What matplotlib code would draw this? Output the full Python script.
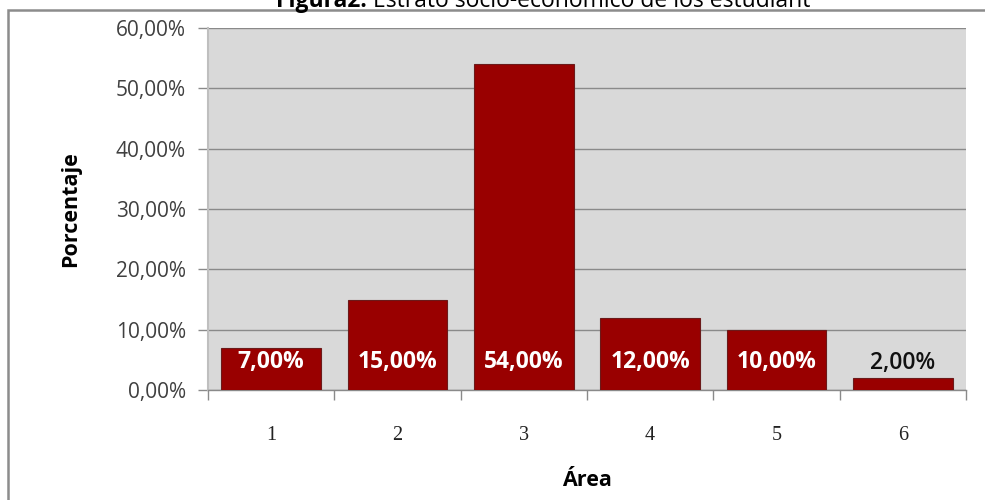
import matplotlib
matplotlib.use("Agg")
import matplotlib.pyplot as plt
from matplotlib.patches import Rectangle

categories = ["1", "2", "3", "4", "5", "6"]
values = [7.0, 15.0, 54.0, 12.0, 10.0, 2.0]
yticks = [0, 10, 20, 30, 40, 50, 60]
ytick_labels = ["0,00%", "10,00%", "20,00%", "30,00%", "40,00%", "50,00%", "60,00%"]
value_labels = ["7,00%", "15,00%", "54,00%", "12,00%", "10,00%", "2,00%"]
title_bold = "Figura2."
title_rest = " Estrato socio-económico de los estudiant"

W, H = 985, 500
fig = plt.figure(figsize=(W / 100, H / 100), dpi=100)
fig.patch.set_facecolor("white")

# outer frame
fig.add_artist(Rectangle((8 / W, -0.05), 1.2, 1 - 10 / H + 0.05, transform=fig.transFigure,
                         fill=False, edgecolor="#8c8c8c", linewidth=1.8))

ax = fig.add_axes([208 / W, 1 - 390 / H, (966 - 208) / W, (390 - 28) / H])
ax.set_facecolor("#d9d9d9")
x = list(range(len(categories)))
bars = ax.bar(x, values, width=0.79, color="#990000", edgecolor="#6b1a1a", linewidth=0.8, zorder=3)
ax.set_xlim(-0.5, len(categories) - 0.5)
ax.set_ylim(0, 60)
ax.set_yticks(yticks)
ax.set_yticklabels(ytick_labels, fontfamily="Open Sans", fontsize=15, color="#404040")
ax.yaxis.grid(True, color="#8a8a8a", linewidth=1.0, zorder=1)
ax.set_axisbelow(True)
ax.tick_params(axis="y", length=7, width=1, color="#8a8a8a", pad=9, direction="out")

ax.set_xticks(x)
ax.set_xticklabels(categories, fontfamily="Liberation Serif", fontsize=14.5, color="#222222")
ax.tick_params(axis="x", length=0, pad=26)
# category boundary ticks
ax.set_xticks([i - 0.5 for i in range(len(categories) + 1)], minor=True)
ax.tick_params(axis="x", which="minor", length=7, width=1, color="#8a8a8a", direction="out")

for s in ["top", "right"]:
    ax.spines[s].set_visible(False)
ax.spines["left"].set_color("#bfbfbf")
ax.spines["left"].set_linewidth(1.5)
ax.spines["bottom"].set_color("#8a8a8a")
ax.spines["bottom"].set_linewidth(1.0)

for xi, v, lab in zip(x, values, value_labels):
    if v >= 5:
        ax.text(xi, 4.6, lab, ha="center", va="center", color="white", fontweight="bold",
                fontfamily="Open Sans", fontsize=16.5, zorder=4)
    else:
        ax.text(xi, v + 0.5, lab, ha="center", va="bottom", color="#111111", fontweight="semibold",
                fontfamily="Open Sans", fontsize=16.5, zorder=4)

ax.set_ylabel("Porcentaje", fontfamily="Open Sans", fontweight="bold", fontsize=15.5)
ax.yaxis.set_label_coords(-(208 - 81) / (966 - 208), 0.5)
ax.set_xlabel("Área", fontfamily="Open Sans", fontweight="bold", fontsize=15.5)
ax.xaxis.set_label_coords((587 - 208) / (966 - 208), -(480 - 390) / (390 - 28))
ax.xaxis.label.set_va("center")

# clipped title at top (as in the reference)
fig.canvas.draw()
r = fig.canvas.get_renderer()
t1 = fig.text(0, 1 - 7 / H, title_bold, fontfamily="Open Sans", fontweight="bold", fontsize=16.5,
              ha="left", va="baseline")
t2 = fig.text(0, 1 - 7 / H, title_rest, fontfamily="Open Sans", fontsize=16.5,
              ha="left", va="baseline")
w1 = t1.get_window_extent(r).width
w2 = t2.get_window_extent(r).width
start = 543 - (w1 + w2) / 2
t1.set_x(start / W)
t2.set_x((start + w1) / W)

fig.savefig("out.png", dpi=100, facecolor="white")
